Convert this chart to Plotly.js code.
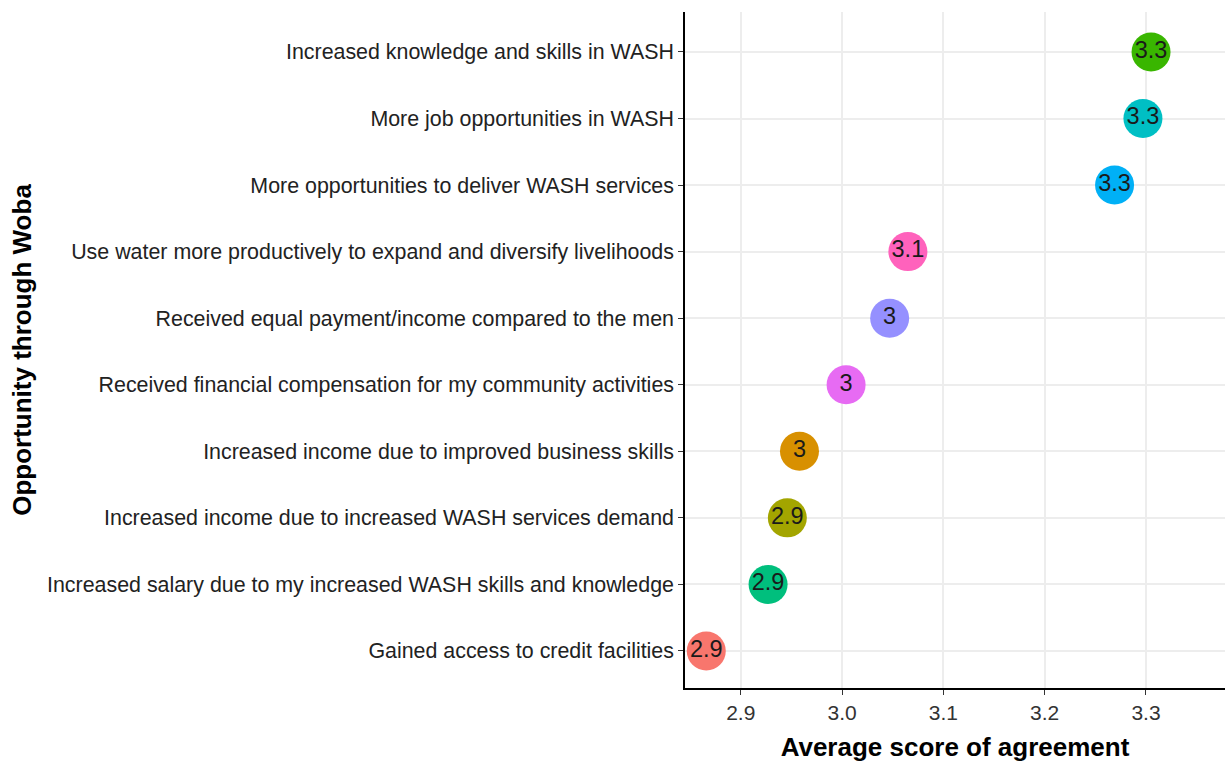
<!DOCTYPE html>
<html>
<head>
<meta charset="utf-8">
<script src="https://cdn.plot.ly/plotly-3.0.1.min.js"></script>
<style>html,body{margin:0;padding:0;background:#fff;}#chart{width:1227px;height:766px;}</style>
</head>
<body>
<div id="chart"></div>
<script>
const categories = [
  "Gained access to credit facilities",
  "Increased salary due to my increased WASH skills and knowledge",
  "Increased income due to increased WASH services demand",
  "Increased income due to improved business skills",
  "Received financial compensation for my community activities",
  "Received equal payment/income compared to the men",
  "Use water more productively to expand and diversify livelihoods",
  "More opportunities to deliver WASH services",
  "More job opportunities in WASH",
  "Increased knowledge and skills in WASH"
];
const scores = [2.866, 2.927, 2.946, 2.958, 3.004, 3.047, 3.065, 3.269, 3.297, 3.305];
const pointColors = ["#F8766D", "#00BF7D", "#A3A500", "#D89000", "#E76BF3", "#9590FF", "#FF62BC", "#00B0F6", "#00BFC4", "#39B600"];
const xTickValues = [2.9, 3.0, 3.1, 3.2, 3.3];
const xTickLabels = ["2.9", "3.0", "3.1", "3.2", "3.3"];

const font = "'Liberation Sans', Arial, sans-serif";
const labels = scores.map(v => String(Math.round(v * 10) / 10));

const trace = {
  type: "scatter",
  mode: "markers+text",
  x: scores,
  y: categories,
  text: labels,
  textposition: "middle center",
  textfont: {family: font, size: 23.5, color: "#1a1a1a"},
  marker: {size: 39, color: pointColors, line: {width: 0}},
  cliponaxis: false,
  hoverinfo: "x+y"
};

const layout = {
  width: 1227, height: 766,
  margin: {l: 685, r: 2, t: 12, b: 78},
  paper_bgcolor: "#fff", plot_bgcolor: "#fff",
  showlegend: false,
  font: {family: font, color: "#333"},
  xaxis: {
    range: [2.845, 3.378],
    tickvals: xTickValues, ticktext: xTickLabels,
    showgrid: true, gridcolor: "#ededed", gridwidth: 1.5,
    zeroline: false,
    showline: true, linecolor: "#000", linewidth: 1.5,
    ticks: "outside", ticklen: 5, tickcolor: "#333", tickwidth: 1.2,
    tickfont: {family: font, size: 21, color: "#333"},
    title: {text: "Average score of agreement", font: {family: font, size: 26, color: "#000", weight: "bold"}, standoff: 15}
  },
  yaxis: {
    type: "category",
    range: [-0.556, 9.6],
    showgrid: true, gridcolor: "#ededed", gridwidth: 1.5,
    zeroline: false,
    showline: true, linecolor: "#000", linewidth: 1.5,
    ticks: "outside", ticklen: 5, tickcolor: "#333", tickwidth: 1.2,
    tickfont: {family: font, size: 21.4, color: "#222"},
    title: {text: "Opportunity through Woba", font: {family: font, size: 26, color: "#000", weight: "bold"}, standoff: 8}
  }
};

Plotly.newPlot("chart", [trace], layout, {displayModeBar: false, responsive: false});
</script>
</body>
</html>
